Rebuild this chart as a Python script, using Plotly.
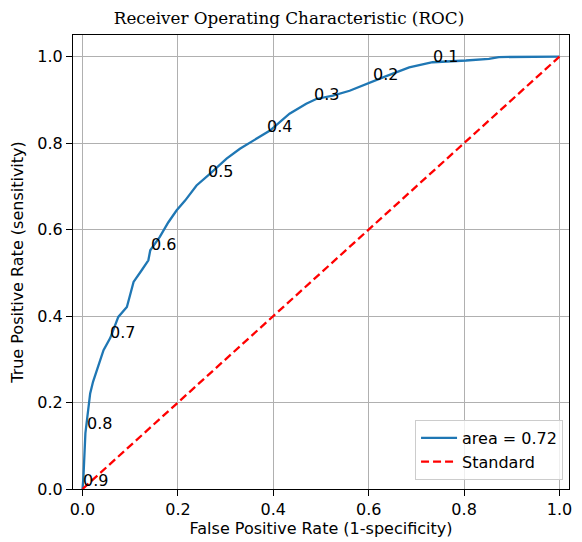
import plotly.graph_objects as go

# ROC curve points
fpr = [0, 0.002, 0.006, 0.012, 0.016, 0.022, 0.030, 0.044, 0.058, 0.075, 0.093, 0.100,
       0.107, 0.124, 0.138, 0.142, 0.162, 0.180, 0.197, 0.215, 0.239, 0.267, 0.302,
       0.330, 0.365, 0.393, 0.434, 0.469, 0.490, 0.525, 0.56, 0.595, 0.630, 0.685,
       0.734, 0.804, 0.852, 0.873, 1.0]
tpr = [0, 0.03, 0.129, 0.18, 0.221, 0.248, 0.275, 0.321, 0.349, 0.398, 0.421, 0.452,
       0.479, 0.506, 0.529, 0.552, 0.583, 0.617, 0.644, 0.667, 0.702, 0.729, 0.764,
       0.787, 0.810, 0.829, 0.868, 0.891, 0.902, 0.91, 0.921, 0.937, 0.952, 0.975,
       0.987, 0.991, 0.995, 0.999, 1.0]

# Threshold labels and their positions on the curve
thresholds = ["0.9", "0.8", "0.7", "0.6", "0.5", "0.4", "0.3", "0.2", "0.1"]
thr_fpr = [0.002, 0.01, 0.058, 0.143, 0.263, 0.386, 0.486, 0.61, 0.735]
thr_tpr = [0.002, 0.134, 0.344, 0.547, 0.716, 0.82, 0.896, 0.942, 0.984]

diag_x = [0, 1]
diag_y = [0, 1]

tick_vals = [0, 0.2, 0.4, 0.6, 0.8, 1.0]
tick_text = ["0.0", "0.2", "0.4", "0.6", "0.8", "1.0"]

auc_label = "area = 0.72"

FONT = "DejaVu Sans"
FS = 16

# the page body has an 8px margin, so the figure is drawn 8px in from the top-left
W, H = 574, 534

fig = go.Figure()
fig.add_trace(go.Scatter(x=fpr, y=tpr, mode="lines", name=auc_label,
                         line=dict(color="#1f77b4", width=2.3)))
fig.add_trace(go.Scatter(x=diag_x, y=diag_y, mode="lines", name="Standard",
                         line=dict(color="#ff0000", width=2.3, dash="8px,4px")))

for t, x, y in zip(thresholds, thr_fpr, thr_tpr):
    fig.add_annotation(x=x, y=y, text=t, showarrow=False, xanchor="left",
                       yanchor="bottom", yshift=-4, xshift=-2,
                       font=dict(family=FONT, size=FS, color="black"))

axis_common = dict(
    showgrid=True, gridcolor="#b0b0b0", gridwidth=1.2,
    showline=True, linecolor="black", linewidth=1.2, mirror=True,
    ticks="outside", ticklen=6, tickcolor="black", tickwidth=1.2,
    zeroline=False, automargin=False,
    tickfont=dict(family=FONT, size=FS, color="black"),
    title_font=dict(family=FONT, size=FS, color="black"),
)

fig.update_layout(
    width=W, height=H,
    margin=dict(l=65, r=13, t=27, b=53, autoexpand=False),
    paper_bgcolor="white", plot_bgcolor="white",
    title=dict(text="Receiver Operating Characteristic (ROC)",
               x=(289 - 8) / W, xref="container", xanchor="center",
               y=1 - 10 / H, yref="container", yanchor="middle",
               font=dict(family="DejaVu Serif", size=16.8, color="black")),
    xaxis=dict(range=[-0.02, 1.02], tickvals=tick_vals, ticktext=tick_text,
               title=dict(text="False Positive Rate (1-specificity)", standoff=4),
               **axis_common),
    yaxis=dict(range=[0, 1.05], tickvals=tick_vals, ticktext=tick_text,
               title=dict(text="True Positive Rate (sensitivity)", standoff=10),
               **axis_common),
    legend=dict(x=0.988, y=0.02, xanchor="right", yanchor="bottom",
                bgcolor="rgba(255,255,255,0.8)", bordercolor="#cccccc", borderwidth=1,
                font=dict(family=FONT, size=FS, color="black"),
                itemwidth=36, tracegroupgap=0),
    showlegend=True,
)

fig.write_html("out.html")
